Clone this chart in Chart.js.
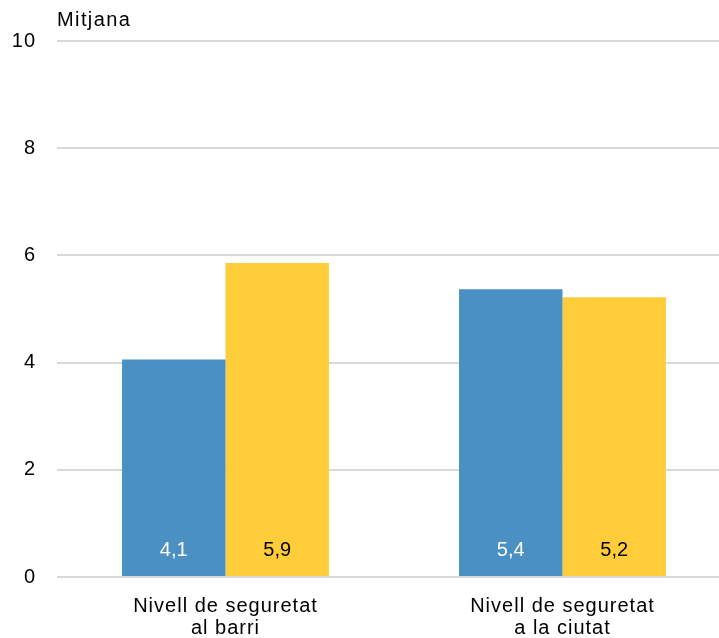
<!DOCTYPE html>
<html>
<head>
<meta charset="utf-8">
<script src="https://cdn.jsdelivr.net/npm/chart.js@4"></script>
<style>
html,body{margin:0;padding:0;background:#fff;overflow:hidden;}
canvas{display:block;}
</style>
</head>
<body>
<canvas id="chart" width="731" height="638"></canvas>
<script>
// values
const categories=[["Nivell de seguretat","al barri"],["Nivell de seguretat","a la ciutat"]];
const serieA=[4.06,5.37];
const serieB=[5.86,5.22];
const yTicks=[0,2,4,6,8,10];
const yTitle="Mitjana";

const FONT="'Liberation Sans', Arial, sans-serif";

// the source text is a bit wider than canvas Arial
const spacing={
    id:"spacing",
    beforeDraw(chart){chart.ctx.letterSpacing="1px";}
};

// value labels at the foot of each bar
const barLabels={
    id:"barLabels",
    afterDatasetsDraw(chart){
        const ctx=chart.ctx;
        const y0=chart.scales.y.getPixelForValue(0);
        ctx.save();
        ctx.letterSpacing="0px";
        ctx.font="20px "+FONT;
        ctx.textAlign="center";
        ctx.textBaseline="middle";
        chart.data.datasets.forEach((ds,i)=>{
            chart.getDatasetMeta(i).data.forEach((bar,j)=>{
                const v=Math.round(ds.data[j]*10)/10;
                ctx.fillStyle=ds.labelColor;
                ctx.fillText(v.toFixed(1).replace(".",","),bar.x,y0-27);
            });
        });
        ctx.restore();
    }
};

// axis title above the plot
const topTitle={
    id:"topTitle",
    afterDraw(chart){
        const ctx=chart.ctx;
        ctx.save();
        ctx.letterSpacing="1.4px";
        ctx.font="20px "+FONT;
        ctx.fillStyle="#000";
        ctx.textAlign="left";
        ctx.textBaseline="middle";
        ctx.fillText(yTitle,chart.chartArea.left,20);
        ctx.restore();
    }
};

new Chart(document.getElementById("chart"),{
    type:"bar",
    data:{
        labels:categories,
        datasets:[
            {data:serieA,backgroundColor:"#4A90C2",labelColor:"#fff"},
            {data:serieB,backgroundColor:"#FFCC3A",labelColor:"#000"}
        ]
    },
    options:{
        responsive:false,
        animation:false,
        events:[],
        layout:{padding:{top:41,left:0,right:0,bottom:0}},
        categoryPercentage:0.614,
        barPercentage:1,
        plugins:{legend:{display:false},tooltip:{enabled:false}},
        scales:{
            x:{
                grid:{display:false,drawTicks:false},
                border:{display:false},
                ticks:{color:"#000",font:{family:FONT,size:20,lineHeight:1.1},padding:18,maxRotation:0},
                afterFit(s){s.height=61;}
            },
            y:{
                min:0,max:10,
                afterBuildTicks(s){s.ticks=yTicks.map(v=>({value:v}));},
                grid:{color:"#d9d9d9",lineWidth:2,drawTicks:false},
                border:{display:false},
                ticks:{color:"#000",font:{family:FONT,size:20},padding:21},
                afterFit(s){s.width=57;}
            }
        }
    },
    plugins:[spacing,barLabels,topTitle]
});
</script>
</body>
</html>
